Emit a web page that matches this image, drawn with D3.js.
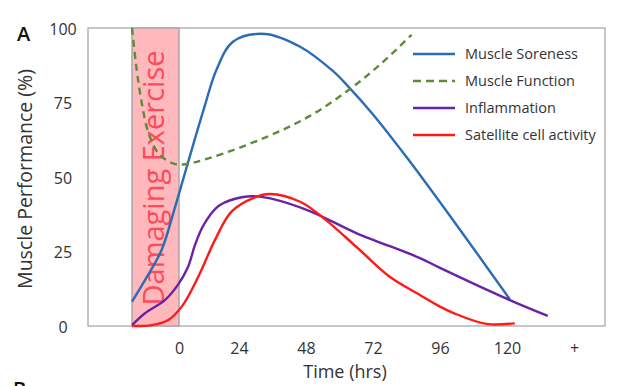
<!DOCTYPE html>
<html>
<head>
<meta charset="utf-8">
<script src="https://cdn.jsdelivr.net/npm/d3@7"></script>
<style>
  html, body { margin: 0; padding: 0; background: #fff; }
  svg { display: block; font-family: "Open Sans", "DejaVu Sans", sans-serif; }
</style>
</head>
<body>
<svg id="chart" width="618" height="386"></svg>
<script>
// time axis (hours) and percent values
var tickHours = [0, 24, 48, 72, 96, 120, 144];
var tickLabels = ['0', '24', '48', '72', '96', '120', '+'];
var yTicks = [0, 25, 50, 75, 100];
var exerciseWindow = [-17, 0];

var soreness = [[-17, 8.2], [-12.3, 15.4], [-6.3, 25.5], [-1.4, 40], [4, 56], [10, 73],
  [15, 86], [21.7, 95.5], [33.3, 98], [45.9, 93.7], [57.7, 85.5], [63, 80.5], [72, 71],
  [84, 56.7], [100.7, 35.5], [121, 9]];
var musFunction = [[-17, 100], [-15.3, 86], [-13.5, 75], [-11.1, 65], [-7.5, 58], [-2.6, 54.7],
  [1.6, 54.2], [12.4, 56.4], [34, 63.5], [49.4, 70.5], [63, 79], [74.5, 87.7], [85.8, 97.7]];
var inflammation = [[-17, 0.3], [-12.3, 4.3], [-5.1, 8.7], [-0.4, 13.8], [3.6, 19.8], [6.4, 27.2],
  [9.2, 32.9], [12.4, 37.2], [16.4, 40.6], [25, 43.2], [31.5, 43.4], [48.2, 39], [66, 31.2],
  [88.8, 22.8], [96, 19.5], [121, 8.7], [134.6, 3.4]];
var satellite = [[-17, 0], [-9.9, 0.3], [-3.9, 2], [1.1, 6.5], [7.7, 16.5], [14.4, 28.9],
  [21, 38.4], [29.7, 43.2], [35.1, 44.3], [45.9, 41.7], [53, 37.2], [66, 26.6], [78, 16.5],
  [88.8, 10.4], [96, 6.5], [100.7, 4.4], [112.6, 0.7], [122.8, 0.9]];

var seriesNames = ['Muscle Soreness', 'Muscle Function', 'Inflammation', 'Satellite cell activity'];
var seriesData = [soreness, musFunction, inflammation, satellite];
var seriesColors = ['#2b6cb3', '#5b8c3a', '#6a22a6', '#ff1a1a'];
var seriesDash = [null, '7,5', null, null];

var svg = d3.select('#chart');
var box = {left: 88, top: 28, right: 605, bottom: 326};

// the spacing of the original is not quite even before 24h
var x = d3.scaleLinear()
  .domain([-17, 0, 24, 144])
  .range([132, 179, 239, 574]);
var y = d3.scaleLinear().domain([0, 100]).range([box.bottom, box.top]);

// plot frame
svg.append('rect')
  .attr('x', box.left).attr('y', box.top)
  .attr('width', box.right - box.left).attr('height', box.bottom - box.top)
  .attr('fill', '#fff').attr('stroke', '#b4b4b4').attr('stroke-width', 1.5);

// exercise band
svg.append('rect')
  .attr('x', x(exerciseWindow[0])).attr('y', box.top)
  .attr('width', x(exerciseWindow[1]) - x(exerciseWindow[0]))
  .attr('height', box.bottom - box.top)
  .attr('fill', '#ffb8bb').attr('stroke', '#a8a8a8').attr('stroke-width', 1.5);

svg.append('text')
  .attr('transform', 'translate(164,178) rotate(-90)')
  .attr('text-anchor', 'middle')
  .attr('font-size', 29)
  .attr('fill', '#ff4a5c')
  .text('Damaging Exercise');

// axes
var xAxis = svg.append('g')
  .attr('transform', 'translate(0,' + box.bottom + ')')
  .call(d3.axisBottom(x).tickValues(tickHours).tickSize(0)
    .tickFormat(function(d, i) { return tickLabels[i]; }));
xAxis.select('.domain').remove();
xAxis.selectAll('text').attr('font-size', 16).attr('fill', '#333')
  .attr('font-family', '"Open Sans", sans-serif').attr('dy', '0.38em').attr('y', 22);

var yAxis = svg.append('g')
  .attr('transform', 'translate(' + box.left + ',0)')
  .call(d3.axisLeft(y).tickValues(yTicks).tickSize(0));
yAxis.select('.domain').remove();
yAxis.selectAll('text').attr('font-size', 16).attr('fill', '#333')
  .attr('font-family', '"Open Sans", sans-serif')
  .attr('text-anchor', 'middle').attr('x', -25).attr('dy', '0.38em');

// series
var line = d3.line()
  .x(function(d) { return x(d[0]); })
  .y(function(d) { return y(d[1]); })
  .curve(d3.curveCatmullRom.alpha(0.5));

seriesData.forEach(function(data, i) {
  svg.append('path')
    .datum(data)
    .attr('d', line)
    .attr('fill', 'none')
    .attr('stroke', seriesColors[i])
    .attr('stroke-width', 2.4)
    .attr('stroke-dasharray', seriesDash[i]);
});

// legend
var legend = svg.append('g').attr('transform', 'translate(413,54)');
seriesNames.forEach(function(name, i) {
  var row = legend.append('g').attr('transform', 'translate(0,' + (i * 27) + ')');
  row.append('line')
    .attr('x1', 0).attr('x2', 42).attr('y1', 0).attr('y2', 0)
    .attr('stroke', seriesColors[i]).attr('stroke-width', 2.4)
    .attr('stroke-dasharray', seriesDash[i] ? '8,5' : null);
  row.append('text')
    .attr('x', 52).attr('dy', '0.36em')
    .attr('font-size', 14.5).attr('fill', '#333')
    .text(name);
});

// titles
svg.append('text')
  .attr('transform', 'translate(32,179) rotate(-90)')
  .attr('text-anchor', 'middle')
  .attr('font-size', 19.5).attr('fill', '#333')
  .text('Muscle Performance (%)');

svg.append('text')
  .attr('x', 345).attr('y', 378)
  .attr('text-anchor', 'middle')
  .attr('font-size', 18).attr('fill', '#333')
  .text('Time (hrs)');

svg.append('text')
  .attr('x', 17).attr('y', 41)
  .attr('font-size', 20).attr('font-weight', 600).attr('fill', '#111')
  .text('A');

// panel B starts just below this crop
svg.append('text')
  .attr('x', 13).attr('y', 396)
  .attr('font-size', 20).attr('font-weight', 600).attr('fill', '#111')
  .text('B');
</script>
</body>
</html>
